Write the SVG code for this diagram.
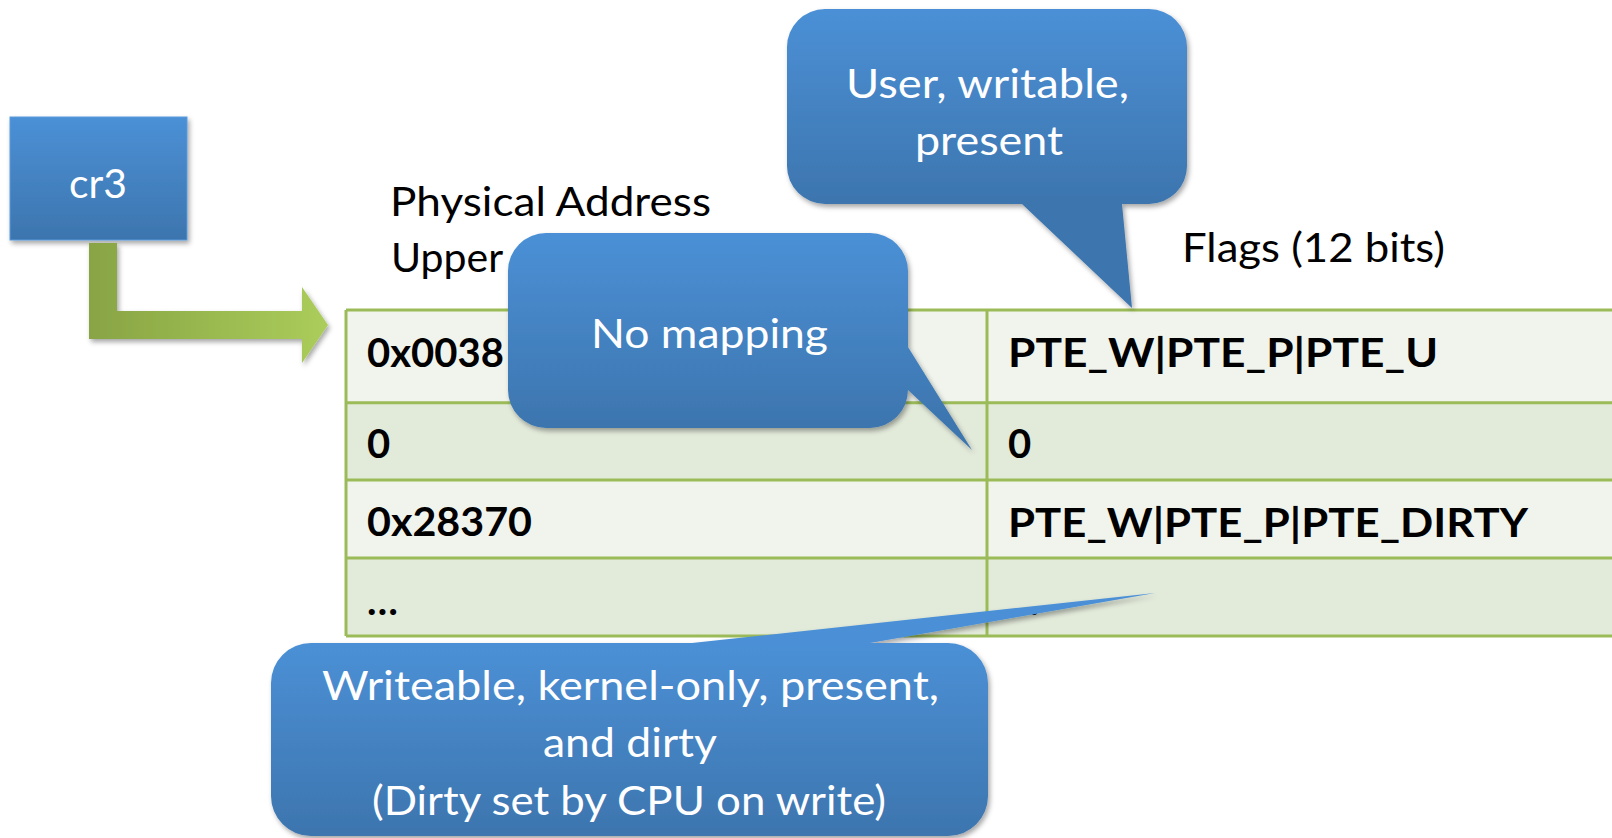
<svg xmlns="http://www.w3.org/2000/svg" width="1612" height="838" viewBox="0 0 1612 838">
<style>
.lbl{font-family:Lato,"Open Sans","Liberation Sans",sans-serif;font-size:41px;fill:#000}
.cell{font-family:Lato,"Open Sans","Liberation Sans",sans-serif;font-size:40px;font-weight:bold;fill:#000}
.wt{font-family:Lato,"Open Sans","Liberation Sans",sans-serif;font-size:41px;fill:#fff}
.grid{stroke:#9BBB59;stroke-width:3;fill:none}
.callout{filter:url(#sh)}
</style>
<defs>
<linearGradient id="g1" gradientUnits="userSpaceOnUse" x1="0" y1="9" x2="0" y2="204">
<stop offset="0" stop-color="#4B90D6"/>
<stop offset="1" stop-color="#3D75AE"/>
</linearGradient>
<linearGradient id="g2" gradientUnits="userSpaceOnUse" x1="0" y1="233" x2="0" y2="428">
<stop offset="0" stop-color="#4B90D6"/>
<stop offset="1" stop-color="#3D75AE"/>
</linearGradient>
<linearGradient id="g3" gradientUnits="userSpaceOnUse" x1="0" y1="643" x2="0" y2="836">
<stop offset="0" stop-color="#4B90D6"/>
<stop offset="1" stop-color="#3D75AE"/>
</linearGradient>
<linearGradient id="g0" gradientUnits="userSpaceOnUse" x1="0" y1="117" x2="0" y2="240">
<stop offset="0" stop-color="#4B90D6"/>
<stop offset="1" stop-color="#3D75AE"/>
</linearGradient>
<linearGradient id="gArrow" gradientUnits="userSpaceOnUse" x1="89" y1="0" x2="328" y2="0">
<stop offset="0" stop-color="#88A444"/>
<stop offset="1" stop-color="#ABCD5B"/>
</linearGradient>
<filter id="sh" x="-10%" y="-10%" width="125%" height="130%">
<feDropShadow dx="2" dy="3" stdDeviation="2.5" flood-color="#000" flood-opacity="0.35"/>
</filter>
</defs>
<rect width="1612" height="838" fill="#fff"/>

<g id="table">
<rect x="346" y="310" width="1270" height="92.7" fill="#F1F4ED"/>
<rect x="346" y="402.7" width="1270" height="77.3" fill="#E2EADA"/>
<rect x="346" y="480" width="1270" height="78" fill="#F1F4ED"/>
<rect x="346" y="558" width="1270" height="78" fill="#E2EADA"/>
<path class="grid" d="M346 310H1616M346 402.7H1616M346 480H1616M346 558H1616M346 636H1616M346 310V636M987 310V636"/>
<text class="cell" x="367" y="367">0x0038</text>
<text class="cell" x="367" y="458">0</text>
<text class="cell" x="367" y="536" textLength="165" lengthAdjust="spacingAndGlyphs">0x28370</text>
<text class="cell" x="367" y="615">…</text>
<text class="cell" x="1008" y="367" textLength="430" lengthAdjust="spacingAndGlyphs">PTE_W|PTE_P|PTE_U</text>
<text class="cell" x="1008" y="458">0</text>
<text class="cell" x="1008" y="537" textLength="520" lengthAdjust="spacingAndGlyphs">PTE_W|PTE_P|PTE_DIRTY</text>
<text class="cell" x="1008" y="615">…</text>
</g>

<g id="header-physical">
<text class="lbl" x="390" y="216" textLength="321" lengthAdjust="spacingAndGlyphs">Physical Address</text>
<text class="lbl" x="391" y="272" font-size="42">Upper</text>
</g>
<g id="header-flags">
<text class="lbl" x="1182" y="262" textLength="263" lengthAdjust="spacingAndGlyphs">Flags (12 bits)</text>
</g>

<g id="cr3">
<rect x="10" y="117" width="177" height="123" fill="url(#g0)" stroke="#5A9BDC" stroke-width="1" filter="url(#sh)"/>
<text class="wt" x="69" y="198" font-size="40" textLength="58" lengthAdjust="spacingAndGlyphs">cr3</text>
</g>

<g id="connectors">
<path d="M89 243H117V311H302V287L328 325L302 363V339H89Z" fill="url(#gArrow)" filter="url(#sh)"/>
</g>

<g id="callout-user">
<path class="callout" fill="url(#g1)" d="M825 9H1149A38 38 0 0 1 1187 47V166A38 38 0 0 1 1149 204H1122L1132 308L1022 204H825A38 38 0 0 1 787 166V47A38 38 0 0 1 825 9Z"/>
<text class="wt" x="846" y="98" textLength="283" lengthAdjust="spacingAndGlyphs">User, writable,</text>
<text class="wt" x="915" y="155" textLength="148" lengthAdjust="spacingAndGlyphs">present</text>
</g>

<g id="callout-nomap">
<path class="callout" fill="url(#g2)" d="M546 233H870A38 38 0 0 1 908 271V347L972 450L908 390A38 38 0 0 1 870 428H546A38 38 0 0 1 508 390V271A38 38 0 0 1 546 233Z"/>
<text class="wt" x="591" y="348" textLength="237" lengthAdjust="spacingAndGlyphs">No mapping</text>
</g>

<g id="callout-kernel">
<path class="callout" fill="url(#g3)" d="M311 643H692L1155 593L870 643H948A40 40 0 0 1 988 683V796A40 40 0 0 1 948 836H311A40 40 0 0 1 271 796V683A40 40 0 0 1 311 643Z"/>
<text class="wt" x="322" y="700" textLength="617" lengthAdjust="spacingAndGlyphs">Writeable, kernel-only, present,</text>
<text class="wt" x="543" y="757" textLength="174" lengthAdjust="spacingAndGlyphs">and dirty</text>
<text class="wt" x="372" y="815" textLength="514" lengthAdjust="spacingAndGlyphs">(Dirty set by CPU on write)</text>
</g>
</svg>
